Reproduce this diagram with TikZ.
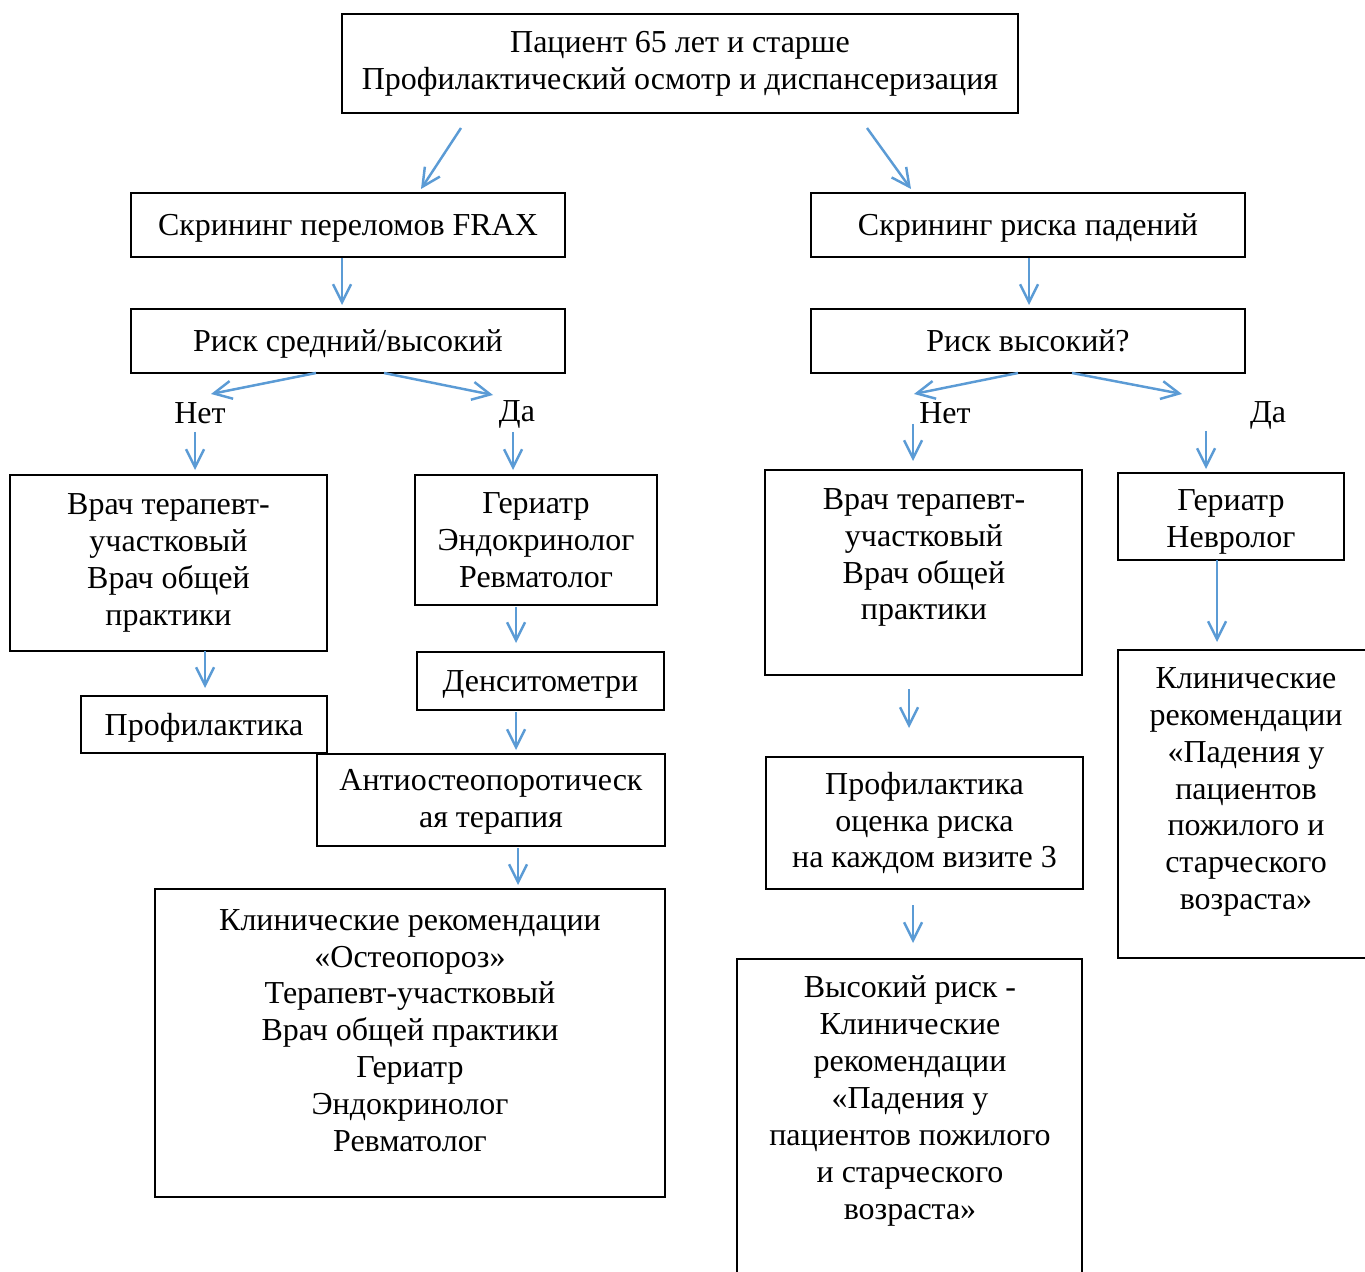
\documentclass[tikz,border=0pt]{standalone}
\usepackage{fontspec}
\setmainfont{Liberation Serif}
\usepackage{tikz}
\usetikzlibrary{arrows.meta}
\definecolor{arrblue}{RGB}{91,155,213}

\begin{document}
\begin{tikzpicture}[x=0.2mm,y=-0.2mm,font=\fontsize{18.2}{21}\selectfont]
\tikzstyle{box}=[draw,line width=0.6pt,align=center,inner sep=0pt]
\tikzstyle{onebox}=[box,text depth=0pt]
\tikzstyle{txt}=[align=center,inner sep=0pt]
\tikzstyle{arr}=[draw=arrblue,line width=1.4pt,-{Straight Barb[length=3.6mm,width=3.6mm]}]
\useasboundingbox (0,0) rectangle (1365,1272);
	% top
    \node[box,minimum width=135.2mm,minimum height=19.8mm] (pat) at (680,63.5)
    	{Пациент 65 лет и старше\\Профилактический осмотр и диспансеризация};
    \node[onebox,minimum width=86.8mm,minimum height=12.8mm] (frax) at (348,225) {Скрининг переломов FRAX};
    \node[onebox,minimum width=86.8mm,minimum height=12.8mm] (fall) at (1028,225) {Скрининг риска падений};
    \node[onebox,minimum width=86.8mm,minimum height=12.8mm] (rfrax) at (348,341) {Риск средний/высокий};
    \node[onebox,minimum width=86.8mm,minimum height=12.8mm] (rfall) at (1028,341) {Риск высокий?};
	% left branch
    \node[txt] (netl) at (200,413) {Нет};
    \node[txt] (dal) at (517,414) {Да};
    \node[box,minimum width=63.4mm,minimum height=35.2mm] (vrachl) at (168.5,563)
    	{Врач терапевт-\\участковый\\Врач общей\\практики};
    \node[box,minimum width=48.4mm,minimum height=26mm] (ger) at (536,540)
    	{Гериатр\\Эндокринолог\\Ревматолог};
    \node[onebox,minimum width=49.4mm,minimum height=11.6mm] (dens) at (540.5,681) {Денситометри};
    \node[onebox,minimum width=49.2mm,minimum height=11.4mm] (profl) at (204,724.5) {Профилактика};
    \node[box,minimum width=69.6mm,minimum height=18.4mm] (anti) at (491,800) {};
    \node[txt] (antit) at (491,802) {Антиостеопоротическ\\ая терапия};
    \node[box,minimum width=102mm,minimum height=61.6mm] (osteo) at (410,1043) {};
    \node[txt] (osteot) at (410,1030.5)
    	{Клинические рекомендации\\«Остеопороз»\\Терапевт-участковый\\Врач общей практики\\Гериатр\\Эндокринолог\\Ревматолог};
	% right branch
    \node[txt] (netr) at (945,413) {Нет};
    \node[txt] (dar) at (1268,415) {Да};
    \node[box,minimum width=63.4mm,minimum height=41mm] (vrachr) at (923.5,572.5) {};
    \node[txt] (vrachrt) at (924,557.5) {Врач терапевт-\\участковый\\Врач общей\\практики};
    \node[box,minimum width=45.2mm,minimum height=17.4mm] (gernev) at (1231,516.5) {};
    \node[txt] (gernevt) at (1231,522) {Гериатр\\Невролог};
    \node[box,minimum width=52.4mm,minimum height=61.6mm] (klinr) at (1249,804) {};
    \node[txt] (klinrt) at (1246,792)
    	{Клинические\\рекомендации\\«Падения у\\пациентов\\пожилого и\\старческого\\возраста»};
    \node[box,minimum width=63.4mm,minimum height=26.4mm] (profr) at (924.5,823)
    	{Профилактика\\оценка риска\\на каждом визите 3};
    \node[box,minimum width=69mm,minimum height=66.2mm] (high) at (909.5,1124.5) {};
    \node[txt] (hight) at (910,1101)
    	{Высокий риск -\\Клинические\\рекомендации\\«Падения у\\пациентов пожилого\\и старческого\\возраста»};
	% arrow ends
    \coordinate (s1) at (461,128);   \coordinate (e1) at (421,189);
    \coordinate (s2) at (867,128);   \coordinate (e2) at (911,189);
    \coordinate (s3) at (342,258);   \coordinate (e3) at (342,305);
    \coordinate (s4) at (1029,258);  \coordinate (e4) at (1029,305);
    \coordinate (s5) at (316,373);   \coordinate (e5) at (211,394);
    \coordinate (s6) at (384,373);   \coordinate (e6) at (493,395);
    \coordinate (s7) at (195,432);   \coordinate (e7) at (195,470);
    \coordinate (s8) at (513,432);   \coordinate (e8) at (513,470);
    \coordinate (s9) at (1018,373);  \coordinate (e9) at (914,394);
    \coordinate (s10) at (1072,373); \coordinate (e10) at (1182,394);
    \coordinate (s11) at (913,424);  \coordinate (e11) at (913,461);
    \coordinate (s12) at (1206,431); \coordinate (e12) at (1206,469);
    \coordinate (s13) at (205,651);  \coordinate (e13) at (205,688);
    \coordinate (s14) at (516,607);  \coordinate (e14) at (516,643);
    \coordinate (s15) at (516,712);  \coordinate (e15) at (516,750);
    \coordinate (s16) at (518,848);  \coordinate (e16) at (518,885);
    \coordinate (s17) at (909,689);  \coordinate (e17) at (909,728);
    \coordinate (s18) at (913,905);  \coordinate (e18) at (913,943);
    \coordinate (s19) at (1217,560); \coordinate (e19) at (1217,642);
    \draw[arr] (s1) -- (e1);
    \draw[arr] (s2) -- (e2);
    \draw[arr] (s3) -- (e3);
    \draw[arr] (s4) -- (e4);
    \draw[arr] (s5) -- (e5);
    \draw[arr] (s6) -- (e6);
    \draw[arr] (s7) -- (e7);
    \draw[arr] (s8) -- (e8);
    \draw[arr] (s9) -- (e9);
    \draw[arr] (s10) -- (e10);
    \draw[arr] (s11) -- (e11);
    \draw[arr] (s12) -- (e12);
    \draw[arr] (s13) -- (e13);
    \draw[arr] (s14) -- (e14);
    \draw[arr] (s15) -- (e15);
    \draw[arr] (s16) -- (e16);
    \draw[arr] (s17) -- (e17);
    \draw[arr] (s18) -- (e18);
    \draw[arr] (s19) -- (e19);
\end{tikzpicture}
\end{document}
